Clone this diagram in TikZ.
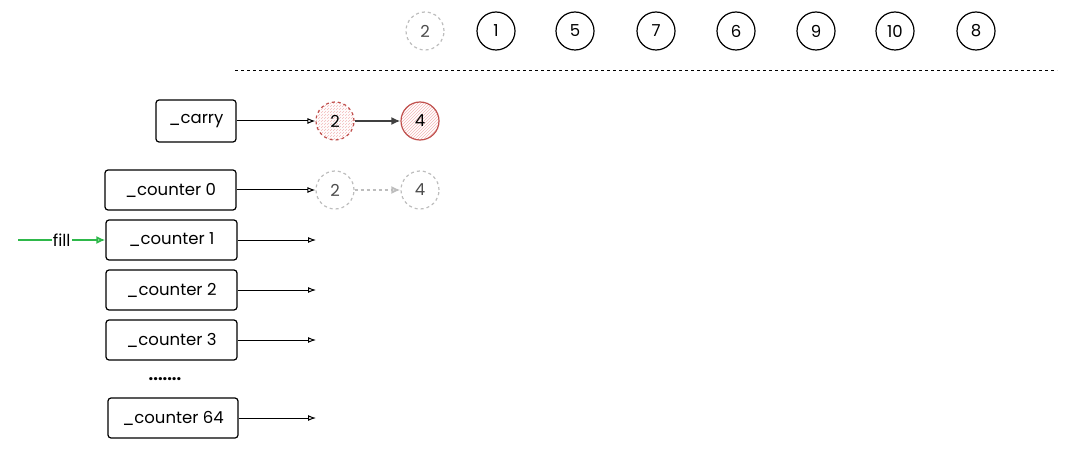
\documentclass[tikz,border=0pt]{standalone}
\usepackage{fontspec}
\setmainfont{Poppins}
\usetikzlibrary{arrows.meta,patterns}
\definecolor{redline}{HTML}{C0504D}
\definecolor{redfill}{HTML}{F2B8B8}
\definecolor{lightg}{HTML}{BDBDBD}
\definecolor{greenl}{HTML}{2EB84A}
\tikzset{
  every node/.style={font=\fontsize{16.5}{18}\selectfont\mdseries},
  box/.style={draw, rounded corners=3pt, line width=1.2pt, minimum height=40pt, inner sep=0pt},
  num/.style={circle, draw, line width=1.2pt, minimum size=38pt, inner sep=0pt},
  ghost/.style={num, draw=lightg, dashed, text=black!70},
  arr/.style={-{Latex[open,length=8pt,width=6pt]}, line width=1pt},
}
\begin{document}
\begin{tikzpicture}[x=1pt,y=-1pt]
\useasboundingbox (0,0) rectangle (1068,449);
% top row
\node[ghost] (t2) at (425,31) {2};
\node[num] (t1) at (496,31) {1};
\node[num] (t5) at (575,31) {5};
\node[num] (t7) at (656,31) {7};
\node[num] (t6) at (736,31) {6};
\node[num] (t9) at (816,31) {9};
\node[num] (t10) at (895,31) {10};
\node[num] (t8) at (976,31) {8};
\coordinate (sepL) at (235,70);
\coordinate (sepR) at (1057,70);
\draw[dashed, line width=0.9pt] (sepL) -- (sepR);
% carry
\node[box, minimum width=80pt, minimum height=42pt] (carry) at (196,121) {\_carry};
\node[num, draw=redline, dashed, pattern=north east lines, pattern color=redfill] (c2) at (335,121) {2};
\node[num, draw=redline, pattern=north east lines, pattern color=redfill] (c4) at (420,121) {4};
\draw[arr] (carry) -- (c2);
\draw[-{Latex[length=9pt,width=8pt]}, line width=2.2pt, black!75] (c2) -- (c4);
% counter 0
\node[box, minimum width=131pt] (k0) at (170.5,190) {\_counter 0};
\node[ghost] (g2) at (335,190) {2};
\node[ghost] (g4) at (420,190) {4};
\draw[arr] (k0) -- (g2);
\draw[-{Latex[open,length=9pt,width=8pt]}, line width=1.8pt, lightg, dashed] (g2) -- (g4);
% counter 1
\node[box, minimum width=131pt] (k1) at (171.5,240) {\_counter 1};
\coordinate (e1) at (316,240);
\draw[arr] (k1) -- (e1);
\coordinate (fs) at (18,240);
\draw[-{Latex[open,length=9pt,width=8pt]}, line width=1.8pt, greenl] (fs) -- node[text=black, fill=white, inner sep=1pt] {fill} (k1);
% counter 2
\node[box, minimum width=131pt] (k2) at (171.5,290) {\_counter 2};
\coordinate (e2) at (316,290);
\draw[arr] (k2) -- (e2);
% counter 3
\node[box, minimum width=131pt] (k3) at (171.5,340) {\_counter 3};
\coordinate (e3) at (316,340);
\draw[arr] (k3) -- (e3);
\node (dots) at (165,379) {\textbf{.......}};
% counter 64
\node[box, minimum width=130pt] (k64) at (173,418) {\_counter 64};
\coordinate (e64) at (316,418);
\draw[arr] (k64) -- (e64);
\end{tikzpicture}
\end{document}
